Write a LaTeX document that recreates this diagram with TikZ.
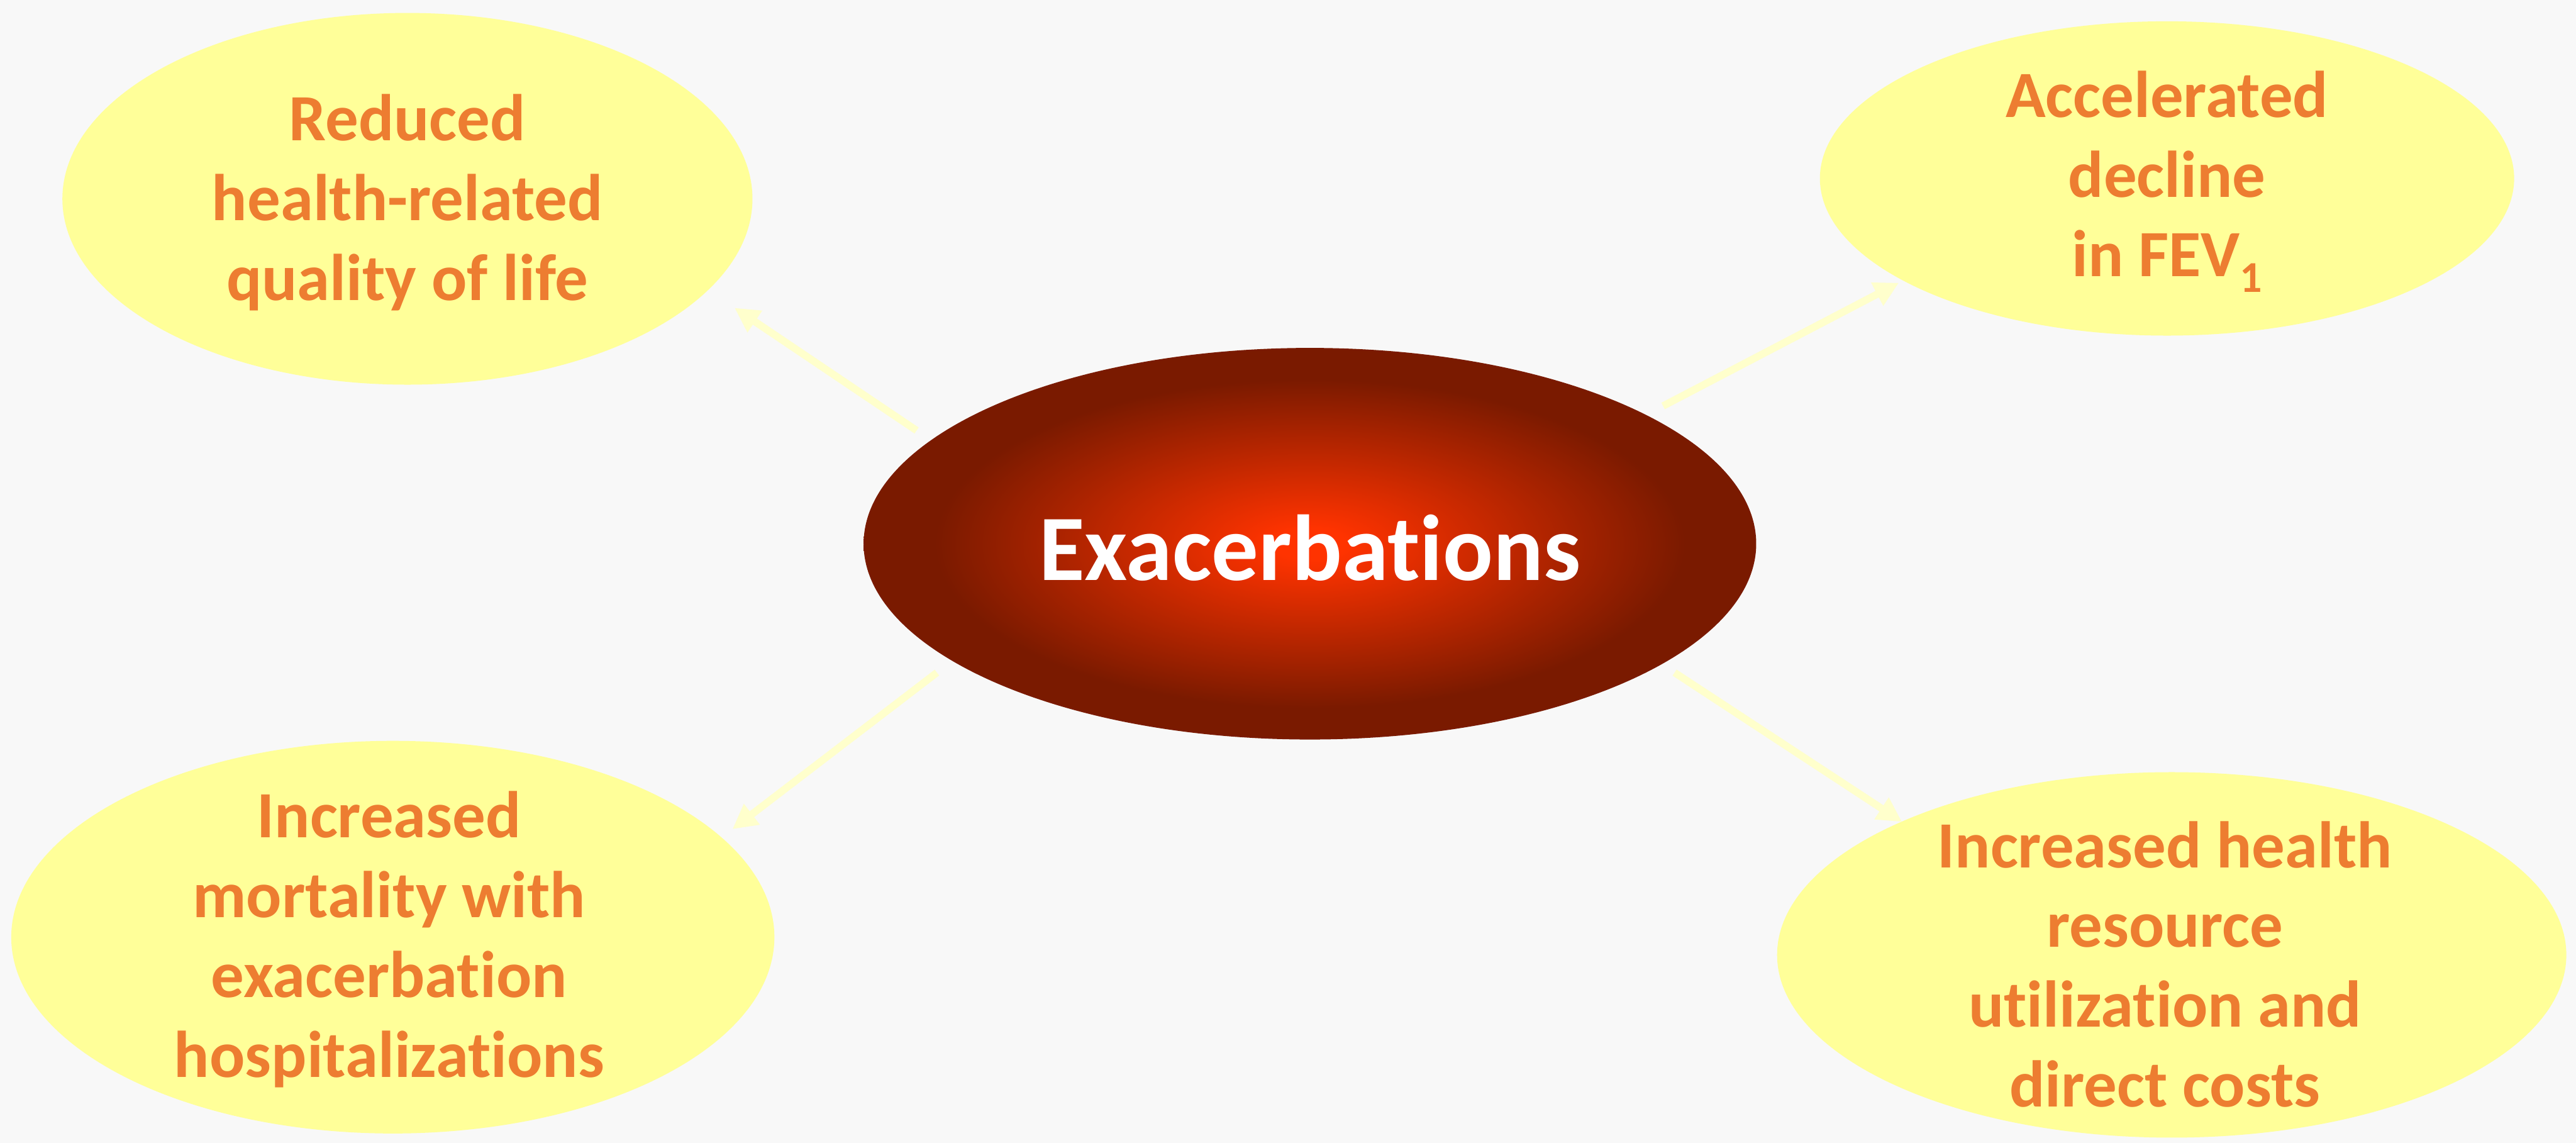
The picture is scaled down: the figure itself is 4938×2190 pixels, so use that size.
\documentclass[tikz,border=0pt]{standalone}
\usepackage{fontspec}
\setmainfont{Carlito}[Ligatures=NoCommon]
\usetikzlibrary{shapes.geometric,arrows.meta}
\definecolor{bgc}{HTML}{F8F8F8}
\definecolor{bubblefill}{HTML}{FFFF99}
\definecolor{txt}{HTML}{ED7D31}
\definecolor{arr}{HTML}{FFFFCC}
\definecolor{hotc}{HTML}{FF3300}
\definecolor{darkc}{HTML}{7A1A00}
% the node's bounding box covers the inner 50bp square of the shading
\pgfdeclareradialshading{exacshade}{\pgfpoint{0bp}{0bp}}{color(0bp)=(hotc); color(2bp)=(hotc); color(21bp)=(darkc); color(50bp)=(darkc)}
\begin{document}
\begin{tikzpicture}[x=0.01cm,y=-0.01cm,
  bubble/.style={ellipse, fill=bubblefill, inner sep=0pt},
  effect/.style={text=txt, font=\fontsize{36}{43.5}\selectfont\bfseries, align=center, inner sep=0pt},
  link/.style={arr, line width=0.14cm, -{Triangle[length=0.47cm,width=0.47cm]}}]
\fill[bgc] (0,0) rectangle (4938,2190);
\useasboundingbox (0,0) rectangle (4938,2190);

% outcome bubbles
\node[bubble, minimum width=13.22cm, minimum height=7.12cm] (qol) at (781,381) {};
\node[bubble, minimum width=13.30cm, minimum height=6.02cm] (fev) at (4154,342) {};
\node[bubble, minimum width=14.62cm, minimum height=7.52cm] (mort) at (753,1796) {};
\node[bubble, minimum width=15.12cm, minimum height=7.00cm] (cost) at (4163,1830) {};

% central node
\node[ellipse, shading=exacshade, minimum width=17.10cm, minimum height=7.50cm, inner sep=0pt] (exa) at (2511,1042) {};
\node[text=white, font=\fontsize{51}{60}\selectfont\bfseries, inner sep=0pt] (exat) at (2511,1050) {Exacerbations};

% labels
\node[effect] (qolt) at (781,388) {Reduced\\health-related\\quality of life};
\node[effect] (fevt) at (4154,348) {Accelerated\\decline\\in FEV\raisebox{-0.3cm}{\fontsize{24}{24}\selectfont 1}};
\node[effect] (mortt) at (746,1800) {Increased\\mortality with\\exacerbation\\hospitalizations};
\node[effect] (costt) at (4150,1848) {Increased health\\resource\\utilization and\\direct costs};

% arrow ends
\coordinate (s1) at (1757,825);  \coordinate (e1) at (1408,590);
\coordinate (s2) at (3188,778);  \coordinate (e2) at (3640,542);
\coordinate (s3) at (1796,1289); \coordinate (e3) at (1404,1589);
\coordinate (s4) at (3210,1289); \coordinate (e4) at (3646,1575);

\draw[link] (s1) -- (e1);
\draw[link] (s2) -- (e2);
\draw[link] (s3) -- (e3);
\draw[link] (s4) -- (e4);
\end{tikzpicture}
\end{document}
